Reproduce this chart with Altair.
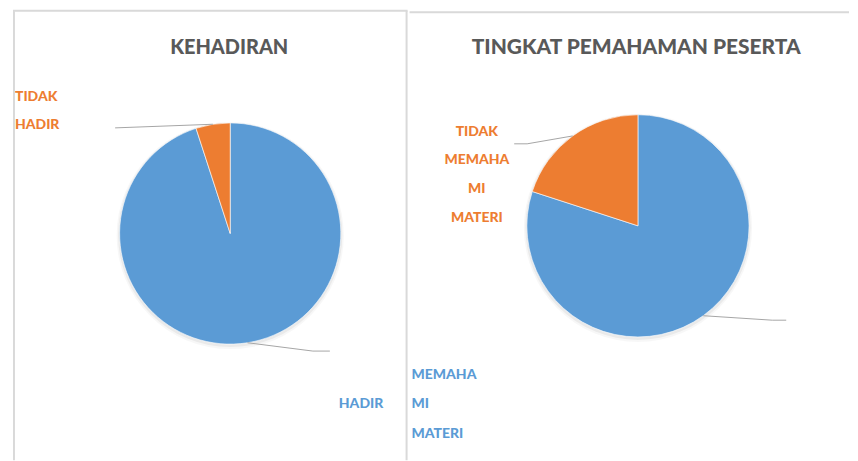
import math
import altair as alt
import pandas as pd

# ---------------- data ----------------
titles = ["KEHADIRAN", "TINGKAT PEMAHAMAN PESERTA"]
att_categories = ["HADIR", "TIDAK HADIR"]
att_values = [95, 5]
att_label_lines = [["HADIR"], ["TIDAK", "HADIR"]]
und_categories = ["MEMAHAMI MATERI", "TIDAK MEMAHAMI MATERI"]
und_values = [80, 20]
und_label_lines = [["MEMAHA", "MI", "MATERI"], ["TIDAK", "MEMAHA", "MI", "MATERI"]]

# ---------------- style / layout (page pixel coordinates) ----------------
BLUE = "#5B9BD5"
ORANGE = "#ED7D31"
TITLE_COLOR = "#595959"
BORDER = "#d9d9d9"
LEADER = "#a6a6a6"
FONT = "Lato"
H = 452
LINE_H = 28.8
OY = 9  # page y of view top

left_layout = dict(
    ox=12, width=396, cx=230, cy=233.5, r=111, title=(229, 47), title_size=20, top=10,
    labels=[dict(x=339, y=405, align="left"), dict(x=14, y=96.3, align="left")],
    leaders=[[(313, 351.5), (330, 351.5)], [(114.5, 127.5)]],
)
right_layout = dict(
    ox=408, width=441, cx=637.2, cy=225.8, r=111.5, title=(635.4, 47), title_size=21, top=11.5,
    labels=[dict(x=410, y=375.7, align="left", lh=29.4), dict(x=475.5, y=131.3, align="center")],
    leaders=[[(772, 320.5), (786, 320.5)], [(526, 143.5), (513, 143.5)]],
)

one = alt.Data(values=[{}])


def panel(title, cats, vals, lines, L, draw_left_border, draw_right_border):
    ox = L["ox"]
    total = float(sum(vals))
    df = pd.DataFrame({"cat": cats, "value": vals, "ord": list(range(len(cats)))})
    color = alt.Color("cat:N", scale=alt.Scale(domain=cats, range=[BLUE, ORANGE]), legend=None)
    cx, cy, r = L["cx"] - ox, L["cy"] - OY, L["r"]

    layers = []
    # soft shadow
    for rr, op, dy in [(r + 3, 0.03, 2), (r + 1.5, 0.05, 1.5)]:
        layers.append(
            alt.Chart(one).mark_arc(outerRadius=rr, theta=0, theta2=2 * math.pi,
                                    color="#000000", opacity=op)
            .encode(x=alt.value(cx), y=alt.value(cy + dy))
        )
    # pie
    layers.append(
        alt.Chart(df).mark_arc(outerRadius=r, stroke="#ffffff", strokeWidth=0.6)
        .encode(theta=alt.Theta("value:Q", stack=True), color=color,
                order=alt.Order("ord:Q"), x=alt.value(cx), y=alt.value(cy))
    )
    # leader lines
    segs = []
    cum = 0.0
    for i, v in enumerate(vals):
        mid = (cum + v / 2.0) / total
        cum += v
        a = 2 * math.pi * mid
        pts = [(cx + r * math.sin(a), cy - r * math.cos(a))] + \
              [(px - ox, py - OY) for px, py in L["leaders"][i]]
        for (x1, y1), (x2, y2) in zip(pts[:-1], pts[1:]):
            segs.append({"x": x1, "y": y1, "x2": x2, "y2": y2})
    layers.append(
        alt.Chart(pd.DataFrame(segs)).mark_rule(color=LEADER, strokeWidth=1)
        .encode(x=alt.X("x:Q", scale=None), y=alt.Y("y:Q", scale=None),
                x2="x2:Q", y2="y2:Q")
    )
    # labels
    for i, c in enumerate(cats):
        lab = L["labels"][i]
        lh = lab.get("lh", LINE_H)
        rows = [{"cat": c, "t": t, "px": lab["x"] - ox, "py": lab["y"] - OY + k * lh}
                for k, t in enumerate(lines[i])]
        layers.append(
            alt.Chart(pd.DataFrame(rows)).mark_text(
                align=lab["align"], baseline="middle", font=FONT, fontSize=14, fontWeight=900)
            .encode(x=alt.X("px:Q", scale=None), y=alt.Y("py:Q", scale=None),
                    text="t:N", color=color)
        )
    # title
    layers.append(
        alt.Chart(one).mark_text(text=title, align="center", baseline="middle", font=FONT,
                                 fontSize=L["title_size"], fontWeight=900, color=TITLE_COLOR)
        .encode(x=alt.value(L["title"][0] - ox), y=alt.value(L["title"][1] - OY))
    )
    # borders
    W = L["width"]
    top = L["top"] - OY
    layers.append(
        alt.Chart(one).mark_rule(color=BORDER, strokeWidth=2)
        .encode(x=alt.value(0), x2=alt.value(W), y=alt.value(top))
    )
    if draw_left_border:
        layers.append(
            alt.Chart(one).mark_rule(color=BORDER, strokeWidth=2)
            .encode(x=alt.value(1), y=alt.value(top), y2=alt.value(H))
        )
    if draw_right_border:
        layers.append(
            alt.Chart(one).mark_rule(color=BORDER, strokeWidth=2)
            .encode(x=alt.value(W - 1), y=alt.value(top), y2=alt.value(H))
        )
    return alt.layer(*layers).properties(width=W, height=H)


left = panel(titles[0], att_categories, att_values, att_label_lines, left_layout, True, True)
right = panel(titles[1], und_categories, und_values, und_label_lines, right_layout, False, False)

chart = (
    alt.hconcat(left, right, spacing=0)
    .properties(padding={"left": 4, "top": 1, "right": 0, "bottom": 0})
    .configure_view(stroke=None)
)

chart.save("out.html", embed_options={"renderer": "svg", "actions": False})
